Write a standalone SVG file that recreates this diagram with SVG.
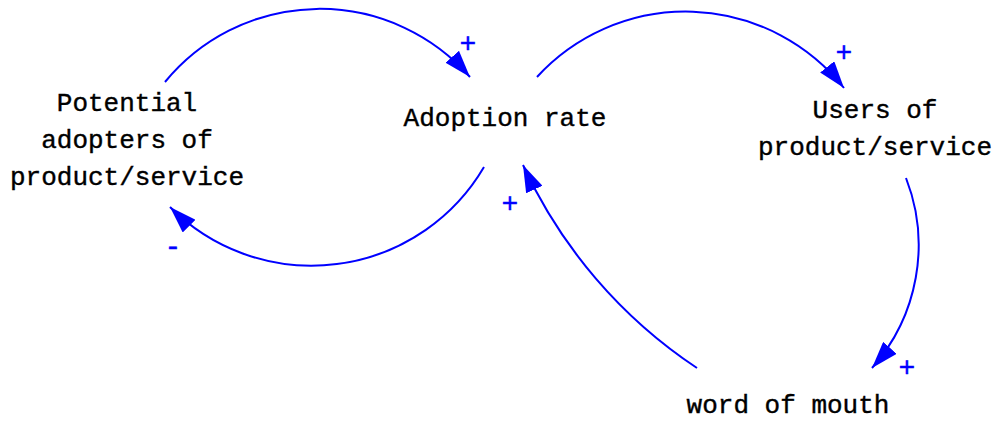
<svg xmlns="http://www.w3.org/2000/svg" width="995" height="421" viewBox="0 0 995 421">
<style>
.lbl{font-family:"Liberation Mono","Courier New",monospace;font-size:26px;fill:#000;text-anchor:middle;stroke:#000;stroke-width:0.4}
.pol{font-family:"Liberation Mono","Courier New",monospace;font-size:28px;fill:#0000ff;text-anchor:middle;stroke:#0000ff;stroke-width:0.4}
.link{fill:none;stroke:#0000ff;stroke-width:2;marker-end:url(#ah)}
</style>
<defs>
<marker id="ah" markerUnits="userSpaceOnUse" markerWidth="28" markerHeight="18" refX="27" refY="9" orient="auto">
<path d="M0,0 L27,9 L0,18 z" fill="#0000ff"/>
</marker>
</defs>
<rect width="995" height="421" fill="#fff"/>
<g id="connectors">
<path class="link" d="M165,82 A200,200 0 0 1 470,77"/>
<path class="link" d="M537,77 A202,202 0 0 1 844,88"/>
<path class="link" d="M484,167 A200,200 0 0 1 170,207"/>
<path class="link" d="M906,178 A185,185 0 0 1 872,368"/>
<path class="link" d="M697,368 A490,490 0 0 1 523,165"/>
<text class="pol" x="468" y="52">+</text>
<text class="pol" x="844" y="61">+</text>
<text class="pol" x="173" y="255">-</text>
<text class="pol" x="907" y="376">+</text>
<text class="pol" x="510" y="212">+</text>
</g>
<g id="potential">
<text class="lbl" x="127" y="111">Potential</text>
<text class="lbl" x="127" y="148">adopters of</text>
<text class="lbl" x="127" y="185">product/service</text>
</g>
<g id="adoption">
<text class="lbl" x="505" y="126">Adoption rate</text>
</g>
<g id="users">
<text class="lbl" x="875" y="118">Users of</text>
<text class="lbl" x="875" y="155">product/service</text>
</g>
<g id="wom">
<text class="lbl" x="788" y="413">word of mouth</text>
</g>
</svg>
